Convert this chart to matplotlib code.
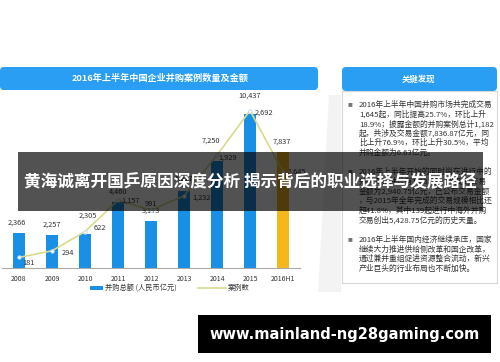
import matplotlib.pyplot as plt
from matplotlib.patches import FancyBboxPatch, Rectangle, Polygon

plt.rcParams['font.family'] = ['Noto Sans CJK SC', 'DejaVu Sans']

# data
years = ['2008', '2009', '2010', '2011', '2012', '2013', '2014', '2015', '2016H1']
amount = [2366, 2257, 2305, 4460, 3173, 5217, 7250, 10437, 7837]  # 并购总额 (人民币亿元)
deals = [181, 294, 622, 1157, 991, 1232, 1929, 2692, 1645]  # 案例数

chart_title = '2016年上半年中国企业并购案例数量及金额'
side_title = '关键发现'
notes = [
    ['2016年上半年中国并购市场共完成交易',
     '1,645起，同比提高25.7%，环比上升',
     '18.9%；披露金额的并购案例总计1,182',
     '起，共涉及交易金额7,836.87亿元，同',
     '比上升76.9%，环比上升30.5%，平均',
     '并购金额为6.63亿元。'],
    ['2016年上半年开始的同时尚在进行中的',
     '并购交易共计有1,032起，涉及的交易',
     '金额为2,940.75亿元，已公布交易金额',
     '，与2015年全年完成的交易规模相比还',
     '超41.8%，其中139起进行中海外并购',
     '交易创出5,428.75亿元的历史天量。'],
    ['2016年上半年国内经济继续承压，国家',
     '继续大力推进供给侧改革和国企改革，',
     '通过兼并重组促进资源整合流动，新兴',
     '产业巨头的行业布局也不断加快。'],
]
overlay_title = '黄海诚离开国乒原因深度分析 揭示背后的职业选择与发展路径'
site = 'www.mainland-ng28gaming.com'

# label offsets in pixels (x right, y up)
amt_off = [(-2, 6), (0, 6), (3, 14), (0, 6), (0, 6), (0, 8), (-6, 16), (0, 14), (-1, 6)]
deal_off = [(10, -6), (16, -2), (15, 4), (13, 0), (0, 6), (18, -2), (11, -2), (14, -2), (14, 0)]

blue = '#1a8fe6'
gold = '#f4b81c'
title_blue = '#2a9ef2'

fig = plt.figure(figsize=(5, 3.62), dpi=100)

# background layer in pixel coords
bg = fig.add_axes([0, 0, 1, 1], zorder=0)
bg.set_xlim(0, 500)
bg.set_ylim(362, 0)
bg.axis('off')
bg.add_patch(Polygon([(329, 95), (341, 95), (341, 292), (318, 292)], closed=True,
                     fc='#f3f3f3', ec='none'))
bg.add_patch(FancyBboxPatch((0, 67), 318, 23, boxstyle='round,pad=0,rounding_size=4',
                            fc=title_blue, ec='none'))
bg.text(160, 78.5, chart_title, color='white', fontsize=6.6, fontweight='bold',
        ha='center', va='center')
bg.add_patch(FancyBboxPatch((342, 67), 155, 24, boxstyle='round,pad=0,rounding_size=4',
                            fc=title_blue, ec='none'))
bg.text(419, 79, side_title, color='white', fontsize=6, fontweight='bold',
        ha='center', va='center')
bg.add_patch(Rectangle((342, 91), 155, 192, fc='white', ec='#d6d6d6', lw=0.8))

starts = [105, 172, 240]
for para, y0 in zip(notes, starts):
    bg.text(350, y0, '■', color='#777777', fontsize=3.5, ha='center', va='center')
    for i, line in enumerate(para):
        bg.text(359, y0 + i * 9.6, line, color='#333333', fontsize=5.6,
                ha='left', va='center')

# legend
bg.add_patch(Rectangle((90, 285.5), 13, 4, fc=blue, ec='none'))
bg.text(105, 287.5, '并购总额 (人民币亿元)', fontsize=5.2, color='#333333', va='center')
bg.plot([198, 226], [287.5, 287.5], color='#d8da8c', lw=1.2)
bg.text(228, 287.5, '案例数', fontsize=5.2, color='#333333', va='center')

# chart
ax = fig.add_axes([2 / 500, 94 / 362, 298 / 500, 168 / 362], zorder=1)
ax.patch.set_alpha(0)
x = list(range(len(years)))
colors = [blue] * (len(years) - 1) + [gold]
ax.bar(x, amount, width=0.37, color=colors)
ax.set_xlim(-0.515, 8.515)
ax.set_ylim(0, 11351)
ax.set_xticks(x)
ax.set_xticklabels(years, fontsize=5, color='#333333')
ax.tick_params(axis='x', length=0, pad=5)
ax.set_yticks([])
for s in ['top', 'right', 'left']:
    ax.spines[s].set_visible(False)
ax.spines['bottom'].set_color('#aaaaaa')
ax.spines['bottom'].set_linewidth(0.8)
for xi, v, off in zip(x, amount, amt_off):
    ax.annotate(f'{v:,}', (xi, v), xytext=off, textcoords='offset pixels',
                ha='center', va='bottom', fontsize=5.3, color='#333333')

ax2 = ax.twinx()
ax2.set_ylim(0, 2872)
ax2.axis('off')
ax2.plot(x, deals, color='#d8da8c', lw=1.2, marker='o', ms=2.5,
         mfc='white', mec='#bcd8f0', mew=0.6)
for xi, v, off in zip(x, deals, deal_off):
    ax2.annotate(f'{v:,}', (xi, v), xytext=off, textcoords='offset pixels',
                 ha='center', va='center', fontsize=5.3, color='#333333')

# overlay layer
top = fig.add_axes([0, 0, 1, 1], zorder=10)
top.set_xlim(0, 500)
top.set_ylim(362, 0)
top.axis('off')
top.add_patch(Rectangle((18, 152), 465, 59, fc='black', ec='none', alpha=0.68))
top.text(250, 182, overlay_title, color='white', fontsize=12, fontweight='bold',
         ha='center', va='center')
top.add_patch(Rectangle((198, 315), 293, 38, fc='black', ec='none'))
top.text(344.5, 334, site, color='white', fontsize=10.5, fontweight='bold',
         family='DejaVu Sans', ha='center', va='center')

fig.savefig('out.png', dpi=100)
